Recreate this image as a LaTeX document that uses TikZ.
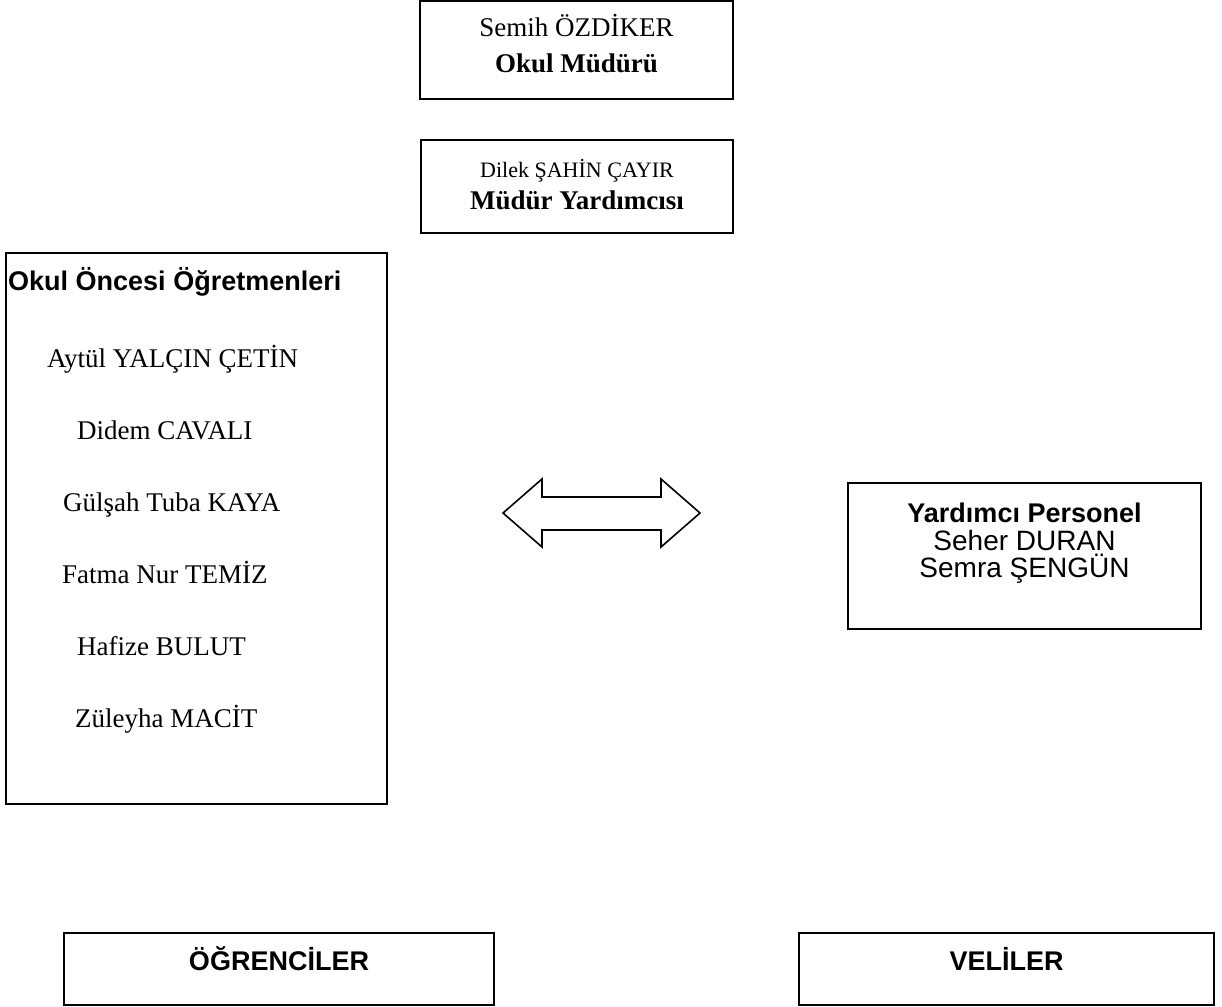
\documentclass[tikz,border=0pt]{standalone}
\usepackage{fontspec}
\setmainfont{Liberation Serif}
\newfontfamily\arial{Liberation Sans}
\begin{document}
\begin{tikzpicture}[x=1pt,y=-1pt,
  box/.style={draw, line width=2pt, inner sep=0pt},
  serif/.style={inner sep=0pt, anchor=base, font=\fontsize{27}{30}\selectfont},
  serifsmall/.style={inner sep=0pt, anchor=base, font=\fontsize{22}{26}\selectfont},
  serifbold/.style={inner sep=0pt, anchor=base, font=\fontsize{27}{30}\selectfont\bfseries},
  person/.style={inner sep=0pt, anchor=base west, font=\fontsize{27}{30}\selectfont},
  sansbold/.style={inner sep=0pt, anchor=base, font=\fontsize{27}{30}\selectfont\arial\bfseries},
  sans/.style={inner sep=0pt, anchor=base, font=\fontsize{28}{30}\selectfont\arial},
  bigarrow/.style={draw, line width=1.6pt, line join=miter}]
\useasboundingbox (0,0) rectangle (1222,1006);
% boxes
\node[box, minimum width=313pt, minimum height=98pt] (mudur) at (576.5,50) {};
\node[box, minimum width=312pt, minimum height=93pt] (yard) at (577,186.5) {};
\node[box, minimum width=381pt, minimum height=551pt] (ogret) at (196.5,528.5) {};
\node[box, minimum width=353pt, minimum height=146pt] (pers) at (1024.5,556) {};
\node[box, minimum width=430pt, minimum height=72pt] (ogr) at (279,969) {};
\node[box, minimum width=415pt, minimum height=72pt] (veli) at (1006.5,969) {};
% texts
\node[serif] (t1) at (576.5,37) {Semih ÖZDİKER};
\node[serifbold] (t2) at (576.5,73) {Okul Müdürü};
\node[serifsmall] (t3) at (577,177) {Dilek ŞAHİN ÇAYIR};
\node[serifbold] (t4) at (577,209) {Müdür Yardımcısı};
\node[sansbold, anchor=base west] (h1) at (8,290) {Okul Öncesi Öğretmenleri};
\node[person] (n1) at (47,367) {Aytül YALÇIN ÇETİN};
\node[person] (n2) at (77,439) {Didem CAVALI};
\node[person] (n3) at (63,511) {Gülşah Tuba KAYA};
\node[person] (n4) at (62,583) {Fatma Nur TEMİZ};
\node[person] (n5) at (77,655) {Hafize BULUT};
\node[person] (n6) at (75,727) {Züleyha MACİT};
\node[sansbold] (p1) at (1024.5,522) {Yardımcı Personel};
\node[sans] (p2) at (1024.5,550) {Seher DURAN};
\node[sans] (p3) at (1024.5,577) {Semra ŞENGÜN};
\node[sansbold] (o1) at (279,970) {ÖĞRENCİLER};
\node[sansbold] (v1) at (1006.5,970) {VELİLER};
% double arrow
\draw[bigarrow] (503,513) -- (542,479) -- (542,497) -- (661,497) -- (661,479)
  -- (700,513) -- (661,547) -- (661,530) -- (542,530) -- (542,547) -- cycle;
\end{tikzpicture}
\end{document}
